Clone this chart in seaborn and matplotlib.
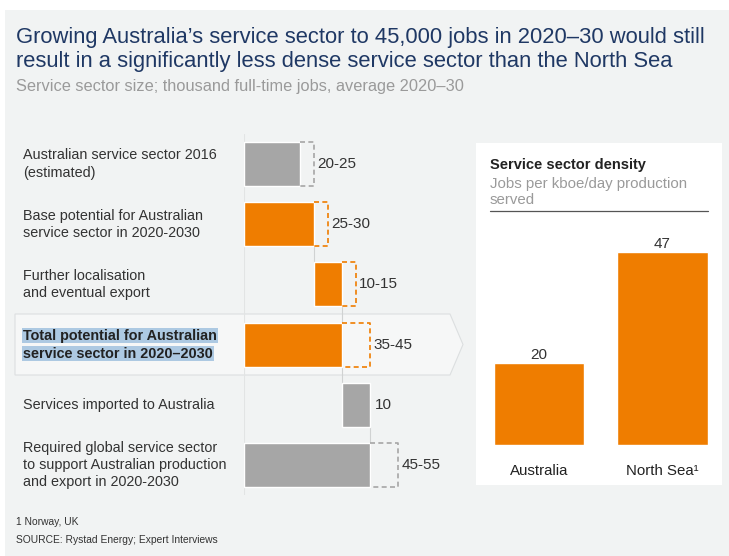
import matplotlib
matplotlib.use("Agg")
import matplotlib.pyplot as plt
import matplotlib.transforms as mtransforms
from matplotlib.patches import Rectangle, Polygon
import numpy as np
import pandas as pd
import seaborn as sns

sns.set_style("white")
plt.rcParams["font.family"] = ["Liberation Sans", "DejaVu Sans"]

# waterfall data (thousand full-time jobs)
row_labels = [
    "Australian service sector 2016\n(estimated)",
    "Base potential for Australian\nservice sector in 2020-2030",
    "Further localisation\nand eventual export",
    "Total potential for Australian\nservice sector in 2020\u20132030",
    "Services imported to Australia",
    "Required global service sector\nto support Australian production\nand export in 2020-2030",
]
bar_start = [0, 0, 25, 0, 35, 0]
bar_end = [20, 25, 35, 35, 45, 45]
range_top = [25, 30, 40, 45, None, 55]
value_text = ["20-25", "25-30", "10-15", "35-45", "10", "45-55"]
bar_kind = ["grey", "orange", "orange", "orange", "grey", "grey"]

# density data
regions = ["Australia", "North Sea\u00b9"]
density = [20, 47]

ORANGE = "#EF7D00"
GREY = "#A6A6A6"
BG = "#F1F3F3"
NAVY = "#1F3864"
W, H = 729, 556


def fx(px):
    return px / W


def fy(py):
    return 1 - py / H


fig = plt.figure(figsize=(W / 100, H / 100), dpi=100)
fig.patch.set_facecolor("white")
fig.patches.append(Rectangle((fx(5), 0), 1, fy(10), transform=fig.transFigure,
                             facecolor=BG, edgecolor="none", zorder=-10))

# highlight chevron for total row
fig.patches.append(Polygon(
    [(fx(15), fy(314)), (fx(450), fy(314)), (fx(463), fy(344.5)),
     (fx(450), fy(375)), (fx(15), fy(375))],
    closed=True, transform=fig.transFigure, facecolor="#F6F7F7",
    edgecolor="#DCDFE0", lw=0.8, zorder=-5))
# white box for density panel
fig.patches.append(Rectangle((fx(476), fy(485)), fx(722) - fx(476), fy(143) - fy(485),
                             transform=fig.transFigure, facecolor="white",
                             edgecolor="none", zorder=-5))

fig.text(fx(16), fy(38), "Growing Australia\u2019s service sector to 45,000 jobs in 2020\u201330 would still",
         color=NAVY, fontsize=15.8, va="center")
fig.text(fx(16), fy(62), "result in a significantly less dense service sector than the North Sea",
         color=NAVY, fontsize=15.8, va="center")
fig.text(fx(16), fy(86), "Service sector size; thousand full-time jobs, average 2020\u201330",
         color="#9A9A9A", fontsize=11.8, va="center")

# ---- waterfall ----
ax1 = fig.add_axes([fx(244), fy(495), 224 / W, 361 / H])
ax1.set_facecolor("none")
ax1.set_xlim(0, 80)
ax1.set_ylim(5.5, -0.5)
ax1.axis("off")

ypos = np.arange(len(row_labels))
bh = 0.73
colors = [ORANGE if k == "orange" else GREY for k in bar_kind]
widths = [e - s for s, e in zip(bar_start, bar_end)]
ax1.barh(ypos, widths, left=bar_start, height=bh, color=colors, zorder=3)

ax1.axvline(0, color="#E2E4E4", lw=0.8, zorder=1)
for i in range(len(ypos) - 1):
    e = bar_end[i]
    if e in (bar_start[i + 1], bar_end[i + 1]):
        ax1.plot([e, e], [i + bh / 2, i + 1 - bh / 2], color="#D0D2D2", lw=0.8, zorder=2)
        if bar_end[i + 1] == e:
            ax1.plot([e, e], [i + 1 - bh / 2, i + 1 + bh / 2], color="#D0D2D2", lw=0.8, zorder=2)

for i, (e, top, txt, c) in enumerate(zip(bar_end, range_top, value_text, colors)):
    lo, hi = i - bh / 2, i + bh / 2
    if top is not None:
        ax1.plot([e, top, top, e], [lo, lo, hi, hi], color=c, lw=1.2,
                 ls=(0, (3, 2)), zorder=4)
        xt = top + 1.2
    else:
        xt = e + 1.6
    ax1.text(xt, i, txt, va="center", ha="left", fontsize=11, color="#333333")

lab_tr = mtransforms.blended_transform_factory(fig.transFigure, ax1.transData)
for i, lab in enumerate(row_labels):
    if i == 3:
        lines = lab.split("\n")
        for j, ln in enumerate(lines):
            ax1.text(fx(23), i - 0.15 + 0.3 * j, ln, transform=lab_tr, va="center",
                     ha="left", fontsize=10.4, fontweight="bold", color="#222222",
                     bbox=dict(facecolor="#ADC9E2", edgecolor="none", pad=0.6))
    else:
        ax1.text(fx(23), i, lab, transform=lab_tr, va="center", ha="left",
                 fontsize=10.4, color="#333333", linespacing=1.3)

# ---- density panel ----
fig.text(fx(490), fy(165), "Service sector density", fontsize=10.5, fontweight="bold",
         color="#222222", va="center")
fig.text(fx(490), fy(192), "Jobs per kboe/day production\nserved", fontsize=10.8,
         color="#9A9A9A", va="center", linespacing=1.15)
fig.add_artist(plt.Line2D([fx(490), fx(708)], [fy(211), fy(211)], color="#555555", lw=0.9))

ax2 = fig.add_axes([fx(477.25), fy(445), 247 / W, 246 / H])
ax2.set_facecolor("none")
dens = pd.DataFrame({"region": regions, "density": density})
sns.barplot(data=dens, x="region", y="density", color=ORANGE, saturation=1,
            width=0.73, ax=ax2)
ax2.set_xlim(-0.5, 1.5)
ax2.set_ylim(0, 60)
for c in ax2.containers:
    ax2.bar_label(c, padding=1, fontsize=11, color="#333333")
ax2.set_xlabel("")
ax2.set_ylabel("")
ax2.set_yticks([])
ax2.tick_params(axis="x", length=0, pad=14, labelsize=10.8, labelcolor="#222222")
sns.despine(ax=ax2, left=True, bottom=True)

fig.text(fx(16), fy(522), "1 Norway, UK", fontsize=7.4, color="#333333", va="center")
fig.text(fx(16), fy(540), "SOURCE: Rystad Energy; Expert Interviews", fontsize=7.4,
         color="#333333", va="center")

fig.savefig("out.png", dpi=100)
